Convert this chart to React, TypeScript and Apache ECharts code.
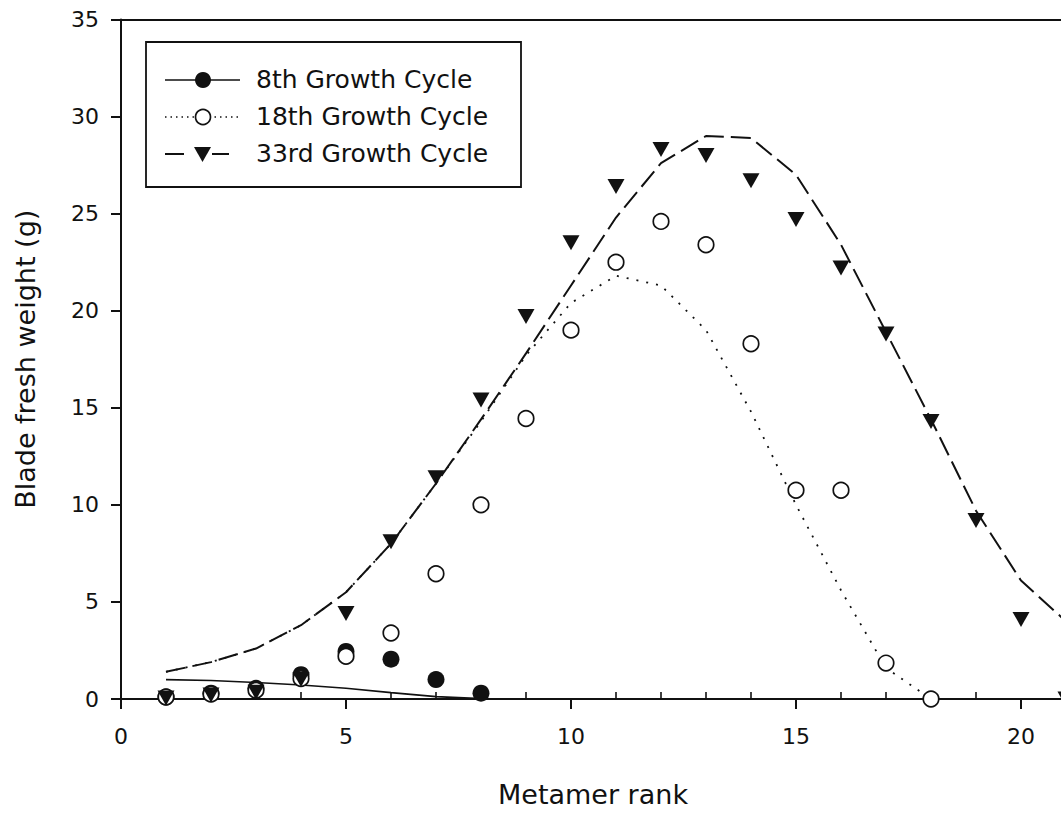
import React, { useEffect, useRef } from "react";
import * as echarts from "echarts";

// Metamer ranks (x)
const ranks = [1, 2, 3, 4, 5, 6, 7, 8, 9, 10, 11, 12, 13, 14, 15, 16, 17, 18, 19, 20, 21];

// 8th growth cycle
const cycle8Points = [0.1, 0.3, 0.55, 1.25, 2.45, 2.05, 1.0, 0.3];
const cycle8Fit = [1.0, 0.95, 0.85, 0.72, 0.55, 0.33, 0.12, 0.02];

// 18th growth cycle
const cycle18Points = [0.1, 0.25, 0.45, 1.05, 2.2, 3.4, 6.45, 10.0, 14.45, 19.0, 22.5, 24.6, 23.4, 18.3, 10.75, 10.75, 1.85, 0.0];
const cycle18Fit = [1.4, 1.9, 2.6, 3.8, 5.5, 8.0, 11.1, 14.3, 17.7, 20.4, 21.8, 21.3, 19.0, 14.8, 10.0, 5.6, 1.6, 0.0];

// 33rd growth cycle
const cycle33Points = [0.05, 0.2, 0.35, 1.0, 4.4, 8.1, 11.4, 15.4, 19.7, 23.5, 26.4, 28.3, 28.0, 26.7, 24.7, 22.2, 18.8, 14.3, 9.2, 4.1, 0.0];
const cycle33Fit = [1.4, 1.9, 2.6, 3.8, 5.5, 8.0, 11.1, 14.4, 17.8, 21.3, 24.8, 27.6, 29.0, 28.9, 27.0, 23.4, 18.9, 14.4, 9.7, 6.1, 4.0];

const legendLabels = ["8th Growth Cycle", "18th Growth Cycle", "33rd Growth Cycle"];
const xTitle = "Metamer rank";
const yTitle = "Blade fresh weight (g)";
const xTickLabels = [0, 5, 10, 15, 20];
const minorTickValues = [1, 2, 3, 4, 6, 7, 8, 9, 11, 12, 13, 14, 16, 17, 18, 19, 21];

const INK = "#111";
const FONT = "DejaVu Sans";

const pairs = (vals: number[]) => vals.map((v, i) => [ranks[i], v]);

export default function App() {
  const ref = useRef<HTMLDivElement>(null);

  useEffect(() => {
    if (!ref.current) return;
    const chart = echarts.init(ref.current, undefined, { renderer: "svg" });

    const rowY = [80, 117, 154];
    const graphics: any[] = [
      {
        type: "rect",
        shape: { x: 146, y: 42, width: 375, height: 145 },
        style: { fill: "#fff", stroke: INK, lineWidth: 1.8 },
        z: 10,
      },
      { type: "line", shape: { x1: 165, y1: rowY[0], x2: 240, y2: rowY[0] }, style: { stroke: INK, lineWidth: 1.6 }, z: 11 },
      { type: "circle", shape: { cx: 203, cy: rowY[0], r: 8 }, style: { fill: INK }, z: 12 },
      { type: "line", shape: { x1: 165, y1: rowY[1], x2: 240, y2: rowY[1] }, style: { stroke: INK, lineWidth: 1.4, lineDash: [1.5, 4] }, z: 11 },
      { type: "circle", shape: { cx: 203, cy: rowY[1], r: 7.5 }, style: { fill: "#fff", stroke: INK, lineWidth: 1.7 }, z: 12 },
      { type: "line", shape: { x1: 165, y1: rowY[2], x2: 184, y2: rowY[2] }, style: { stroke: INK, lineWidth: 2 }, z: 11 },
      { type: "line", shape: { x1: 212, y1: rowY[2], x2: 229, y2: rowY[2] }, style: { stroke: INK, lineWidth: 2 }, z: 11 },
      {
        type: "polygon",
        shape: { points: [[194, rowY[2] - 7], [211, rowY[2] - 7], [202.5, rowY[2] + 8]] },
        style: { fill: INK },
        z: 12,
      },
      {
        type: "text",
        x: 593,
        y: 794,
        style: { text: xTitle, fill: INK, font: `27px "${FONT}"`, textAlign: "center", textVerticalAlign: "middle" },
        z: 12,
      },
    ];
    legendLabels.forEach((t, i) => {
      graphics.push({
        type: "text",
        x: 256,
        y: rowY[i] - 1,
        style: { text: t, fill: INK, font: `25px "${FONT}"`, textVerticalAlign: "middle", textAlign: "left" },
        z: 12,
      });
    });

    chart.setOption({
      animation: false,
      backgroundColor: "#fff",
      grid: { left: 121, top: 19.5, right: 0, bottom: 117 },
      xAxis: [
        {
          type: "value",
          min: 0,
          max: 22,
          interval: 5,
          position: "bottom",
          axisLine: { show: true, onZero: false, lineStyle: { color: INK, width: 2 } },
          axisTick: { show: true, inside: false, length: 10, customValues: xTickLabels, lineStyle: { color: INK, width: 2 } },
          axisLabel: { show: true, margin: 26, customValues: xTickLabels, fontFamily: FONT, fontSize: 22, color: INK },
          splitLine: { show: false },
        },
        {
          type: "value",
          min: 0,
          max: 22,
          interval: 1,
          position: "bottom",
          axisLine: { show: false },
          axisTick: { show: true, inside: true, length: 7, customValues: minorTickValues, lineStyle: { color: INK, width: 1.6 } },
          axisLabel: { show: false },
          splitLine: { show: false },
        },
        {
          type: "value",
          min: 0,
          max: 22,
          position: "top",
          axisLine: { show: true, onZero: false, lineStyle: { color: INK, width: 2 } },
          axisTick: { show: false },
          axisLabel: { show: false },
          splitLine: { show: false },
        },
      ],
      yAxis: {
        type: "value",
        min: 0,
        max: 35,
        interval: 5,
        name: yTitle,
        nameLocation: "middle",
        nameGap: 82,
        nameTextStyle: { fontFamily: FONT, fontSize: 27, color: INK },
        axisLine: { show: true, onZero: false, lineStyle: { color: INK, width: 2 } },
        axisTick: { show: true, inside: false, length: 10, lineStyle: { color: INK, width: 2 } },
        axisLabel: { show: true, margin: 22, fontFamily: FONT, fontSize: 22, color: INK },
        splitLine: { show: false },
      },
      graphic: graphics,
      series: [
        {
          name: "8th fit",
          type: "line",
          data: pairs(cycle8Fit),
          showSymbol: false,
          lineStyle: { color: INK, width: 1.6, type: "solid" },
          z: 2,
        },
        {
          name: "18th fit",
          type: "line",
          data: pairs(cycle18Fit),
          showSymbol: false,
          lineStyle: { color: INK, width: 1.8, type: [2, 8] },
          z: 2,
        },
        {
          name: "33rd fit",
          type: "line",
          data: pairs(cycle33Fit),
          showSymbol: false,
          lineStyle: { color: INK, width: 2, type: [20, 7] },
          z: 2,
        },
        {
          name: legendLabels[0],
          type: "scatter",
          data: pairs(cycle8Points),
          symbol: "circle",
          symbolSize: 17,
          itemStyle: { color: INK, opacity: 1 },
          z: 3,
        },
        {
          name: legendLabels[1],
          type: "scatter",
          data: pairs(cycle18Points),
          symbol: "circle",
          symbolSize: 15.5,
          itemStyle: { color: "#fff", borderColor: INK, borderWidth: 1.7, opacity: 1 },
          z: 4,
        },
        {
          name: legendLabels[2],
          type: "scatter",
          data: pairs(cycle33Points),
          symbol: "triangle",
          symbolSize: [17, 15],
          symbolRotate: 180,
          itemStyle: { color: INK, opacity: 1 },
          z: 5,
        },
      ],
    });

    return () => chart.dispose();
  }, []);

  return (
    <div style={{ position: "fixed", left: 0, top: 0, width: 1061, height: 816, overflow: "hidden", background: "#fff" }}>
      <div ref={ref} style={{ width: 1111, height: 816 }} />
    </div>
  );
}
